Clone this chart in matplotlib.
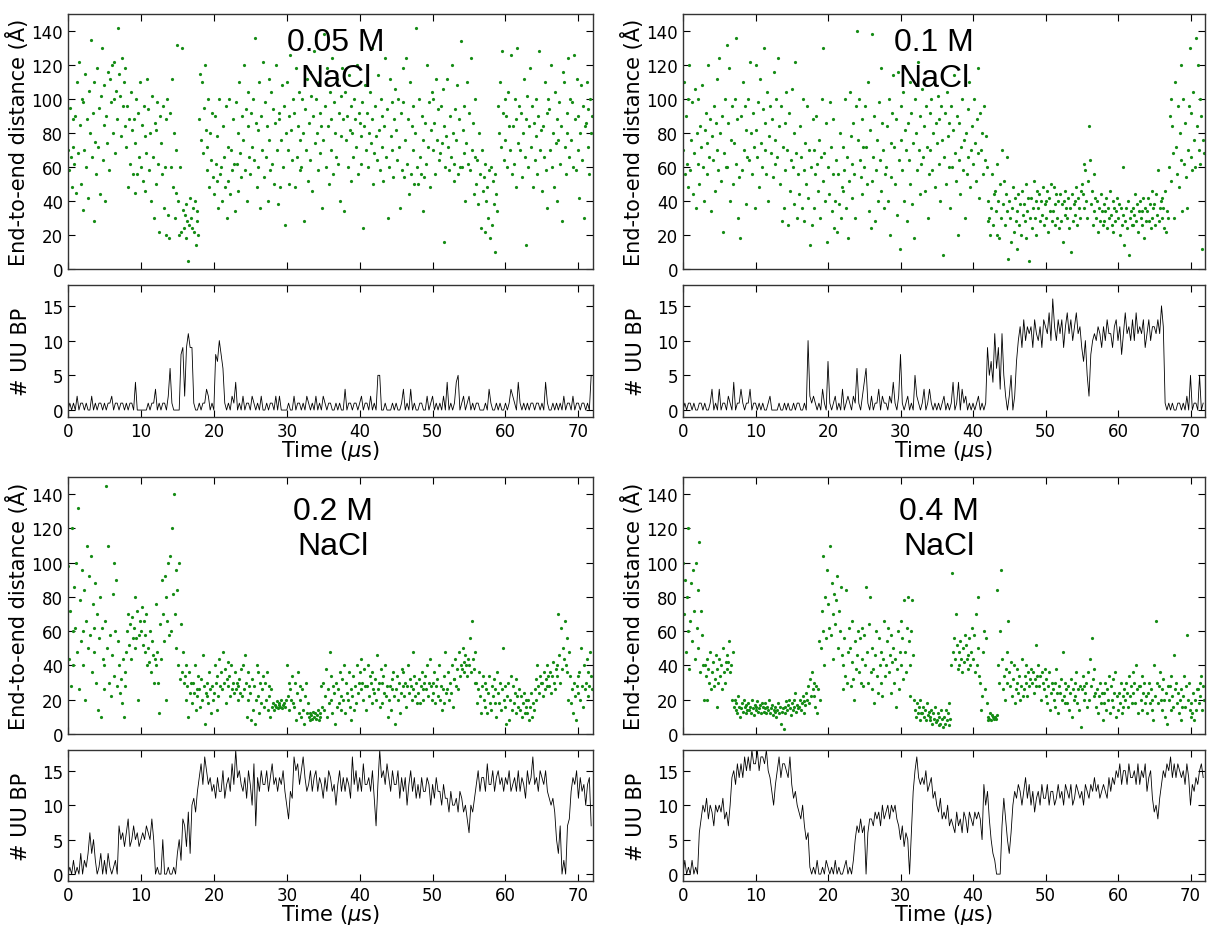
import numpy as np
import matplotlib
matplotlib.use('Agg')
import matplotlib.pyplot as plt

# ── end-to-end distance (Å), one row per microsecond, 8 frames per row ──
E2E_005 = [
    [70, 58, 95, 66, 48, 88, 72, 62], [90, 45, 110, 68, 122, 85, 50, 100],
    [35, 98, 70, 115, 60, 88, 42, 105], [80, 135, 66, 92, 28, 110, 75, 56],
    [118, 72, 95, 44, 102, 130, 64, 85], [108, 40, 90, 74, 116, 58, 112, 98],
    [120, 80, 100, 122, 68, 105, 88, 142], [115, 102, 78, 124, 96, 110, 84, 118],
    [72, 96, 48, 88, 62, 104, 82, 56], [88, 45, 74, 100, 56, 92, 66, 110],
    [60, 85, 52, 96, 46, 78, 68, 112], [94, 58, 80, 40, 102, 66, 30, 86],
    [50, 82, 98, 62, 22, 90, 74, 56], [96, 36, 60, 20, 88, 100, 32, 18],
    [92, 60, 112, 48, 80, 30, 70, 45], [132, 40, 20, 60, 22, 130, 35, 24],
    [32, 18, 38, 28, 5, 26, 42, 30], [24, 36, 22, 40, 14, 28, 34, 20],
    [88, 115, 76, 110, 68, 95, 120, 82], [58, 72, 100, 48, 80, 64, 92, 54],
    [44, 90, 62, 52, 78, 36, 100, 56], [60, 40, 84, 66, 48, 96, 30, 72],
    [52, 100, 44, 70, 58, 88, 62, 34], [98, 62, 80, 46, 110, 68, 54, 90],
    [76, 120, 58, 94, 40, 84, 104, 66], [56, 92, 72, 100, 64, 136, 86, 48],
    [82, 60, 110, 36, 90, 70, 122, 54], [98, 66, 84, 40, 112, 76, 58, 104],
    [62, 94, 50, 86, 120, 70, 38, 92], [88, 48, 76, 108, 60, 96, 26, 80],
    [110, 70, 90, 50, 126, 82, 64, 100], [92, 48, 118, 66, 84, 104, 58, 76],
    [60, 100, 80, 28, 94, 70, 112, 52], [86, 116, 64, 102, 46, 90, 128, 74],
    [100, 80, 58, 110, 92, 68, 84, 36], [76, 138, 96, 60, 118, 84, 50, 104],
    [88, 70, 124, 56, 98, 80, 66, 112], [62, 92, 40, 102, 78, 118, 88, 34],
    [104, 76, 90, 60, 114, 82, 96, 52], [80, 66, 100, 88, 72, 120, 56, 92],
    [86, 78, 62, 98, 24, 84, 108, 70], [92, 60, 80, 104, 74, 130, 88, 50],
    [68, 96, 78, 64, 114, 82, 58, 100], [72, 90, 52, 84, 124, 66, 94, 30],
    [60, 112, 78, 98, 70, 54, 88, 106], [82, 64, 100, 72, 36, 92, 58, 118],
    [98, 54, 76, 124, 62, 88, 44, 110], [56, 84, 70, 96, 50, 80, 142, 60],
    [50, 100, 66, 56, 90, 34, 76, 54], [86, 62, 120, 72, 98, 48, 82, 104],
    [100, 70, 86, 56, 112, 76, 94, 64], [68, 96, 74, 106, 16, 84, 60, 78],
    [112, 72, 58, 90, 66, 120, 80, 52], [62, 94, 76, 108, 56, 88, 60, 134],
    [60, 82, 68, 96, 40, 74, 110, 62], [92, 58, 124, 70, 86, 44, 100, 66],
    [50, 64, 38, 80, 56, 24, 70, 46], [54, 22, 62, 40, 48, 30, 58, 18],
    [60, 26, 52, 38, 10, 56, 44, 34], [96, 80, 110, 72, 128, 92, 64, 100],
    [76, 90, 60, 104, 84, 70, 126, 56], [84, 62, 100, 48, 88, 130, 74, 96],
    [70, 92, 54, 80, 112, 66, 88, 14], [102, 60, 84, 118, 72, 96, 48, 86],
    [64, 78, 100, 56, 90, 128, 70, 82], [46, 84, 66, 110, 58, 92, 36, 100],
    [94, 70, 120, 60, 80, 48, 104, 74], [88, 40, 76, 98, 62, 84, 28, 116],
    [110, 72, 56, 92, 80, 124, 66, 100], [76, 98, 60, 126, 88, 58, 112, 70],
    [90, 42, 80, 108, 64, 96, 30, 84], [86, 110, 72, 94, 56, 100, 80, 90],
]

E2E_01 = [
    [70, 110, 56, 90, 62, 100, 48, 120], [58, 76, 98, 44, 68, 106, 36, 80],
    [62, 100, 50, 84, 72, 108, 60, 40], [82, 92, 56, 74, 120, 66, 88, 34],
    [78, 64, 96, 46, 86, 70, 112, 58], [124, 80, 52, 90, 22, 68, 100, 60],
    [132, 60, 86, 118, 40, 76, 96, 50], [74, 100, 62, 136, 88, 30, 54, 18],
    [90, 58, 110, 70, 96, 38, 82, 66], [100, 64, 122, 80, 56, 92, 72, 36],
    [120, 82, 66, 98, 48, 112, 74, 60], [94, 130, 70, 86, 56, 104, 40, 78],
    [96, 68, 88, 54, 116, 76, 62, 100], [66, 124, 84, 50, 96, 28, 72, 36],
    [86, 58, 104, 70, 26, 92, 46, 64], [106, 60, 80, 38, 122, 68, 30, 56],
    [44, 84, 66, 36, 100, 58, 28, 74], [50, 96, 42, 70, 14, 60, 26, 88],
    [70, 36, 56, 90, 62, 46, 76, 30], [66, 100, 52, 130, 68, 40, 86, 16],
    [60, 44, 98, 72, 34, 88, 56, 24], [40, 64, 22, 56, 38, 80, 30, 48],
    [72, 46, 58, 100, 36, 66, 18, 52], [104, 78, 62, 42, 86, 56, 30, 96],
    [140, 76, 100, 64, 54, 88, 44, 72], [60, 96, 72, 50, 110, 34, 82, 24],
    [52, 138, 66, 90, 28, 58, 76, 40], [98, 64, 118, 46, 86, 70, 36, 56],
    [60, 84, 40, 100, 20, 74, 54, 92], [114, 72, 50, 88, 32, 116, 64, 12],
    [96, 76, 58, 104, 40, 82, 70, 28], [86, 64, 110, 50, 92, 38, 74, 18],
    [100, 80, 58, 122, 70, 44, 90, 62], [106, 66, 84, 46, 96, 72, 30, 56],
    [92, 70, 100, 58, 80, 110, 48, 86], [74, 102, 62, 88, 40, 96, 76, 8],
    [66, 92, 50, 104, 78, 60, 86, 36], [96, 60, 82, 114, 68, 52, 90, 20],
    [64, 86, 44, 72, 100, 58, 76, 30], [80, 56, 94, 66, 110, 48, 70, 84],
    [62, 100, 74, 52, 88, 68, 118, 42], [92, 70, 80, 56, 96, 64, 78, 60],
    [28, 40, 30, 20, 36, 56, 26, 44], [46, 34, 20, 62, 40, 18, 50, 30],
    [70, 38, 52, 26, 44, 66, 34, 6], [40, 30, 16, 36, 48, 22, 42, 28],
    [34, 12, 44, 26, 38, 20, 46, 32], [38, 28, 50, 18, 34, 42, 5, 30],
    [42, 24, 36, 52, 30, 40, 20, 46], [36, 44, 28, 40, 32, 48, 26, 38],
    [40, 30, 46, 22, 42, 34, 50, 28], [34, 48, 26, 38, 44, 30, 40, 24],
    [44, 28, 38, 16, 40, 32, 46, 36], [30, 42, 24, 36, 10, 44, 28, 38],
    [40, 32, 48, 26, 42, 36, 30, 46], [50, 44, 62, 36, 58, 40, 30, 52],
    [84, 64, 38, 46, 26, 56, 34, 42], [30, 40, 22, 36, 28, 44, 34, 26],
    [38, 28, 34, 42, 24, 36, 30, 46], [32, 26, 40, 22, 36, 28, 34, 42],
    [30, 38, 20, 36, 26, 60, 32, 14], [28, 36, 24, 40, 8, 30, 34, 26],
    [36, 26, 32, 44, 28, 38, 22, 34], [40, 30, 34, 26, 42, 18, 36, 28],
    [34, 42, 28, 38, 24, 46, 30, 36], [38, 26, 44, 32, 58, 28, 36, 40],
    [30, 42, 36, 24, 46, 22, 34, 30], [60, 90, 100, 52, 84, 68, 30, 110],
    [72, 56, 96, 48, 80, 120, 64, 34], [100, 62, 86, 54, 36, 70, 96, 130],
    [66, 92, 58, 104, 76, 60, 136, 84], [120, 70, 100, 62, 90, 12, 76, 68],
]

E2E_02 = [
    [98, 44, 72, 28, 120, 60, 40, 86], [62, 100, 48, 132, 26, 78, 54, 96],
    [60, 40, 84, 20, 66, 110, 50, 92], [58, 104, 36, 76, 62, 48, 88, 30],
    [70, 14, 56, 80, 10, 62, 44, 26], [40, 66, 145, 50, 110, 30, 58, 22],
    [46, 82, 34, 100, 60, 90, 28, 54], [40, 24, 32, 18, 44, 10, 36, 28],
    [48, 60, 70, 52, 64, 44, 68, 56], [62, 50, 80, 56, 72, 20, 58, 66],
    [60, 74, 52, 66, 48, 58, 70, 40], [50, 42, 60, 36, 54, 46, 30, 44],
    [40, 76, 48, 30, 12, 64, 44, 90], [70, 54, 92, 20, 80, 66, 100, 58],
    [104, 60, 120, 82, 140, 70, 96, 50], [84, 40, 100, 32, 64, 36, 48, 30],
    [34, 20, 40, 28, 10, 36, 24, 30], [18, 30, 24, 40, 14, 26, 22, 34],
    [26, 16, 32, 20, 46, 28, 6, 24], [30, 22, 18, 36, 26, 12, 28, 20],
    [24, 40, 30, 14, 34, 22, 44, 28], [36, 26, 48, 30, 38, 18, 32, 42],
    [28, 34, 22, 40, 26, 30, 24, 36], [26, 30, 20, 28, 32, 24, 38, 22],
    [40, 26, 46, 30, 10, 36, 20, 28], [24, 8, 32, 14, 28, 6, 20, 40],
    [22, 36, 12, 30, 18, 26, 34, 16], [30, 20, 36, 14, 28, 22, 10, 26],
    [16, 18, 14, 17, 16, 19, 15, 17], [18, 16, 20, 15, 17, 18, 16, 20],
    [40, 22, 30, 14, 26, 20, 34, 18], [16, 30, 8, 24, 36, 12, 20, 28],
    [10, 26, 14, 6, 22, 30, 12, 18], [10, 12, 8, 11, 9, 13, 10, 12],
    [9, 11, 14, 8, 10, 12, 28, 16], [30, 14, 22, 38, 10, 26, 18, 48],
    [20, 34, 12, 28, 24, 6, 30, 16], [26, 18, 36, 22, 14, 32, 20, 40],
    [12, 30, 24, 20, 36, 16, 26, 8], [22, 34, 14, 28, 18, 40, 24, 30],
    [36, 26, 44, 30, 20, 38, 28, 14], [28, 40, 22, 34, 30, 18, 36, 26],
    [24, 32, 20, 46, 26, 30, 16, 38], [30, 18, 34, 24, 40, 22, 28, 10],
    [20, 28, 14, 32, 26, 36, 22, 6], [26, 34, 20, 30, 12, 24, 38, 28],
    [36, 22, 30, 16, 28, 40, 24, 32], [28, 20, 48, 26, 34, 22, 30, 18],
    [24, 32, 18, 28, 36, 20, 26, 30], [34, 26, 40, 22, 30, 44, 28, 20],
    [30, 24, 36, 18, 28, 32, 22, 40], [20, 28, 14, 26, 34, 18, 48, 24],
    [26, 36, 20, 30, 24, 40, 16, 32], [32, 44, 28, 38, 26, 48, 34, 40],
    [38, 50, 42, 36, 46, 40, 34, 44], [40, 56, 36, 66, 44, 38, 48, 30],
    [30, 18, 26, 36, 22, 12, 28, 34], [20, 30, 16, 26, 12, 24, 34, 18],
    [14, 28, 22, 32, 18, 26, 10, 36], [24, 18, 30, 14, 26, 50, 20, 28],
    [16, 6, 22, 30, 8, 20, 34, 14], [28, 18, 24, 12, 32, 22, 16, 26],
    [14, 22, 10, 18, 24, 12, 20, 16], [12, 20, 8, 16, 24, 10, 18, 14],
    [26, 32, 20, 40, 28, 24, 34, 30], [30, 22, 36, 26, 32, 40, 28, 34],
    [28, 36, 24, 34, 42, 30, 26, 38], [40, 34, 70, 46, 30, 62, 38, 50],
    [44, 66, 40, 56, 36, 20, 48, 34], [18, 26, 12, 30, 22, 8, 28, 34],
    [24, 36, 20, 50, 28, 16, 40, 26], [30, 44, 22, 36, 28, 48, 34, 26],
]

E2E_04 = [
    [100, 70, 90, 48, 80, 60, 120, 38], [66, 88, 54, 96, 72, 44, 100, 62],
    [84, 50, 112, 36, 72, 58, 40, 20], [40, 34, 20, 44, 38, 30, 48, 26],
    [36, 42, 28, 32, 46, 16, 38, 30], [44, 34, 40, 26, 50, 36, 30, 42],
    [38, 46, 42, 54, 36, 40, 20, 48], [16, 20, 14, 18, 12, 22, 16, 10],
    [15, 18, 13, 20, 16, 12, 17, 14], [18, 14, 16, 12, 20, 15, 11, 17],
    [14, 16, 19, 13, 15, 17, 12, 18], [16, 13, 15, 18, 12, 16, 14, 20],
    [12, 15, 17, 11, 14, 16, 13, 10], [14, 18, 12, 16, 6, 13, 15, 3],
    [16, 12, 19, 14, 17, 20, 15, 11], [18, 14, 20, 16, 24, 13, 17, 15],
    [16, 20, 14, 18, 22, 12, 19, 17], [24, 20, 28, 18, 32, 22, 36, 26],
    [22, 30, 16, 28, 12, 26, 54, 20], [50, 72, 60, 104, 40, 80, 56, 96],
    [76, 62, 110, 58, 88, 70, 44, 82], [64, 78, 92, 50, 72, 60, 86, 46],
    [40, 26, 56, 34, 84, 30, 48, 62], [50, 28, 42, 66, 32, 20, 54, 38],
    [46, 60, 36, 56, 30, 44, 62, 28], [58, 40, 86, 48, 30, 64, 80, 36],
    [26, 50, 38, 18, 46, 60, 34, 24], [56, 40, 30, 48, 22, 44, 66, 34],
    [40, 54, 62, 36, 46, 24, 58, 42], [50, 30, 44, 16, 38, 60, 26, 48],
    [66, 40, 56, 32, 78, 48, 36, 62], [80, 54, 40, 22, 60, 78, 46, 20],
    [14, 10, 18, 12, 16, 8, 20, 12], [12, 16, 10, 14, 8, 18, 11, 13],
    [10, 8, 14, 6, 12, 9, 16, 7], [8, 12, 5, 10, 6, 14, 9, 4],
    [10, 6, 14, 8, 12, 5, 18, 9], [40, 94, 48, 56, 44, 70, 52, 38],
    [48, 40, 54, 44, 36, 50, 42, 58], [52, 44, 38, 46, 56, 40, 48, 62],
    [44, 58, 36, 70, 40, 50, 80, 34], [30, 14, 22, 48, 60, 26, 56, 18],
    [8, 10, 9, 12, 8, 11, 10, 9], [10, 9, 11, 84, 40, 30, 60, 96],
    [44, 26, 34, 20, 38, 48, 30, 66], [36, 28, 42, 22, 32, 40, 18, 26],
    [30, 38, 24, 34, 20, 28, 44, 22], [26, 34, 40, 30, 22, 36, 28, 32],
    [38, 30, 36, 24, 32, 52, 28, 34], [40, 28, 34, 20, 36, 30, 26, 38],
    [22, 32, 18, 28, 36, 14, 24, 30], [26, 20, 30, 16, 38, 24, 12, 28],
    [24, 32, 20, 48, 22, 30, 18, 26], [18, 28, 14, 24, 32, 10, 26, 20],
    [30, 22, 36, 18, 26, 14, 28, 4], [26, 34, 20, 28, 24, 30, 16, 36],
    [20, 44, 28, 56, 32, 22, 38, 24], [16, 26, 12, 22, 30, 18, 24, 8],
    [24, 18, 30, 14, 26, 20, 34, 12], [28, 20, 32, 16, 24, 36, 10, 22],
    [14, 24, 18, 30, 12, 22, 16, 26], [20, 30, 24, 16, 34, 22, 28, 18],
    [36, 24, 30, 18, 40, 26, 12, 28], [28, 20, 34, 14, 24, 30, 18, 22],
    [12, 24, 30, 18, 26, 14, 20, 8], [40, 22, 66, 30, 18, 28, 36, 20],
    [26, 14, 32, 20, 10, 24, 6, 28], [20, 28, 14, 34, 22, 16, 46, 26],
    [30, 18, 24, 12, 20, 8, 26, 16], [22, 34, 16, 28, 58, 20, 30, 14],
    [10, 18, 12, 24, 8, 20, 14, 26], [26, 18, 30, 22, 34, 14, 28, 20],
]

# ── number of UU base pairs, one row per microsecond, 4 samples per row ──
BP_005 = [
    [0, 1, 0, 1], [0, 2, 0, 1], [1, 0, 1, 0], [0, 2, 0, 1], [0, 1, 1, 0],
    [1, 0, 1, 1], [2, 0, 1, 1], [0, 1, 1, 0], [1, 0, 1, 1], [0, 4, 0, 0],
    [0, 0, 0, 0], [1, 0, 1, 1], [3, 0, 1, 0], [1, 1, 0, 2], [6, 1, 0, 0],
    [0, 0, 8, 9], [2, 9, 11, 9], [9, 1, 0, 0], [1, 0, 1, 1], [3, 2, 0, 1],
    [0, 8, 7, 10], [8, 6, 1, 0], [1, 0, 2, 1], [4, 0, 1, 0], [2, 0, 1, 1],
    [0, 2, 1, 0], [1, 0, 2, 0], [0, 1, 0, 1], [1, 0, 2, 0], [2, 0, 0, 0],
    [0, 1, 0, 0], [2, 0, 1, 1], [0, 1, 0, 2], [1, 0, 1, 0], [2, 0, 1, 0],
    [2, 1, 0, 1], [1, 0, 0, 1], [0, 1, 0, 0], [3, 0, 1, 1], [0, 1, 1, 0],
    [1, 2, 0, 1], [1, 0, 2, 0], [1, 0, 5, 5], [0, 0, 1, 0], [0, 0, 1, 0],
    [1, 0, 0, 1], [3, 0, 1, 0], [3, 0, 1, 0], [0, 1, 1, 0], [0, 2, 0, 1],
    [2, 0, 1, 0], [1, 0, 2, 0], [4, 0, 1, 0], [1, 4, 5, 0], [1, 2, 0, 1],
    [2, 0, 1, 0], [1, 1, 0, 0], [0, 1, 0, 3], [1, 0, 0, 1], [0, 1, 0, 0],
    [1, 0, 1, 3], [2, 1, 0, 4], [1, 0, 1, 0], [1, 0, 1, 1], [0, 1, 1, 0],
    [1, 0, 4, 1], [0, 0, 1, 0], [1, 0, 1, 0], [2, 0, 1, 1], [0, 2, 0, 1],
    [1, 0, 1, 1], [0, 1, 0, 5],
]

BP_01 = [
    [0, 1, 0, 1], [1, 0, 1, 0], [0, 1, 1, 0], [1, 0, 0, 1], [3, 0, 1, 0],
    [3, 0, 1, 1], [0, 2, 1, 0], [4, 0, 1, 1], [3, 1, 0, 1], [1, 3, 0, 1],
    [1, 0, 1, 0], [1, 0, 0, 1], [2, 0, 0, 0], [0, 1, 0, 0], [1, 0, 1, 0],
    [0, 1, 0, 1], [1, 0, 0, 1], [0, 10, 2, 1], [2, 1, 0, 1], [0, 3, 1, 0],
    [7, 1, 0, 1], [2, 0, 1, 0], [3, 0, 1, 2], [1, 0, 2, 1], [6, 1, 0, 2],
    [4, 6, 1, 0], [2, 0, 1, 1], [3, 0, 2, 1], [1, 0, 2, 1], [4, 1, 0, 2],
    [8, 1, 0, 1], [2, 0, 1, 0], [5, 2, 1, 0], [1, 3, 0, 1], [3, 1, 0, 1],
    [0, 1, 0, 1], [2, 0, 1, 0], [1, 4, 0, 1], [4, 0, 3, 1], [2, 0, 1, 0],
    [1, 0, 1, 2], [0, 1, 0, 1], [9, 5, 7, 4], [11, 6, 9, 3], [11, 5, 2, 0],
    [2, 5, 0, 2], [7, 10, 12, 9], [13, 10, 12, 11], [12, 9, 13, 11],
    [10, 12, 9, 13], [12, 11, 14, 10], [16, 12, 10, 13], [11, 13, 9, 12],
    [14, 11, 13, 10], [12, 14, 11, 12], [9, 7, 10, 5], [2, 8, 10, 11],
    [10, 12, 11, 9], [12, 10, 13, 11], [11, 9, 12, 13], [10, 12, 8, 11],
    [14, 11, 12, 10], [13, 10, 14, 11], [12, 11, 13, 9], [11, 13, 10, 12],
    [12, 11, 13, 11], [15, 12, 1, 0], [1, 0, 1, 0], [0, 1, 1, 0],
    [1, 0, 2, 0], [5, 0, 1, 1], [0, 5, 0, 1],
]

BP_02 = [
    [0, 1, 0, 2], [0, 1, 0, 3], [0, 2, 1, 3], [6, 3, 5, 2], [0, 1, 3, 0],
    [2, 0, 3, 1], [0, 1, 2, 0], [7, 5, 6, 4], [6, 8, 4, 5], [7, 5, 6, 4],
    [5, 6, 5, 7], [6, 5, 8, 5], [0, 1, 0, 0], [5, 0, 0, 1], [0, 0, 1, 0],
    [3, 5, 2, 8], [7, 4, 9, 3], [10, 11, 9, 12], [14, 16, 13, 17],
    [15, 13, 14, 12], [13, 11, 14, 12], [12, 15, 11, 13], [14, 12, 16, 13],
    [18, 14, 15, 13], [12, 14, 11, 15], [13, 10, 16, 7], [14, 12, 15, 13],
    [13, 15, 12, 14], [16, 13, 14, 12], [14, 13, 15, 12], [10, 8, 12, 11],
    [17, 15, 16, 13], [15, 17, 14, 12], [13, 15, 12, 14], [15, 12, 14, 13],
    [11, 14, 12, 15], [14, 12, 13, 10], [13, 15, 12, 14], [12, 14, 13, 11],
    [17, 13, 15, 12], [14, 12, 16, 13], [13, 14, 12, 15], [11, 7, 13, 18],
    [14, 15, 13, 16], [14, 12, 15, 13], [13, 15, 11, 14], [12, 14, 10, 13],
    [15, 12, 14, 11], [13, 11, 14, 12], [12, 14, 13, 10], [13, 11, 14, 12],
    [12, 10, 13, 11], [11, 9, 12, 10], [10, 11, 9, 12], [11, 9, 10, 8],
    [6, 10, 9, 11], [13, 15, 12, 14], [14, 12, 16, 13], [13, 15, 12, 14],
    [15, 13, 14, 12], [14, 13, 15, 12], [13, 14, 12, 15], [12, 14, 13, 11],
    [15, 13, 14, 17], [13, 14, 12, 15], [14, 13, 15, 12], [11, 10, 11, 9],
    [5, 3, 7, 0], [2, 0, 7, 8], [12, 14, 13, 15], [11, 14, 12, 13],
    [10, 13, 14, 7],
]

BP_04 = [
    [0, 2, 0, 1], [0, 2, 0, 1], [0, 6, 8, 10], [9, 11, 8, 10], [9, 7, 10, 9],
    [10, 9, 11, 8], [9, 7, 10, 14], [15, 13, 16, 14], [16, 14, 17, 15],
    [17, 15, 18, 16], [16, 18, 15, 17], [17, 16, 18, 15], [14, 12, 10, 13],
    [15, 17, 14, 16], [16, 15, 14, 17], [13, 11, 12, 10], [9, 8, 10, 7],
    [5, 6, 1, 0], [1, 0, 2, 0], [0, 1, 0, 2], [1, 0, 1, 0], [2, 0, 1, 0],
    [0, 1, 2, 0], [1, 0, 2, 5], [7, 6, 8, 6], [7, 0, 6, 8], [8, 7, 9, 8],
    [9, 7, 10, 8], [9, 10, 8, 10], [9, 10, 8, 7], [5, 7, 4, 6], [5, 0, 6, 12],
    [15, 17, 14, 13], [14, 13, 15, 12], [13, 14, 11, 12], [10, 9, 11, 8],
    [9, 8, 10, 7], [8, 7, 6, 9], [7, 8, 6, 9], [8, 6, 9, 8], [7, 9, 8, 9],
    [8, 5, 13, 10], [12, 8, 5, 3], [2, 0, 0, 0], [7, 11, 8, 5], [3, 6, 10, 12],
    [11, 13, 12, 10], [12, 14, 11, 13], [10, 12, 9, 11], [12, 10, 13, 11],
    [11, 13, 10, 12], [12, 10, 11, 13], [11, 12, 10, 13], [12, 11, 13, 10],
    [11, 13, 12, 11], [12, 10, 13, 12], [11, 13, 12, 14], [12, 13, 11, 12],
    [13, 12, 11, 14], [12, 14, 13, 15], [14, 16, 13, 15], [15, 13, 16, 14],
    [14, 15, 13, 16], [13, 15, 14, 16], [12, 14, 15, 11], [9, 10, 8, 11],
    [13, 15, 14, 16], [15, 17, 14, 16], [14, 16, 15, 14], [15, 13, 16, 14],
    [10, 13, 12, 14], [13, 15, 16, 14],
]

LABELS = ['0.05 M\nNaCl', '0.1 M\nNaCl', '0.2 M\nNaCl', '0.4 M\nNaCl']
E2E_DATA = [E2E_005, E2E_01, E2E_02, E2E_04]
BP_DATA = [BP_005, BP_01, BP_02, BP_04]

T_MAX = 72

plt.rcParams.update({
    'font.family': 'DejaVu Sans',
    'xtick.direction': 'in', 'ytick.direction': 'in',
    'xtick.top': True, 'ytick.right': True,
    'xtick.major.size': 5, 'ytick.major.size': 5,
    'xtick.labelsize': 12, 'ytick.labelsize': 12,
    'axes.linewidth': 1.0,
    'axes.edgecolor': '#333333',
})

W, H = 1208, 928
fig = plt.figure(figsize=(W / 100, H / 100), dpi=100)

# panel boxes in pixels: (left, right) per column, (top, bottom) per row
cols = [(68, 593), (683, 1205)]
rows_e2e = [(15, 270), (478, 735)]
rows_bp = [(286, 418), (751, 882)]
text_x = [0.51, 0.48, 0.505, 0.49]
text_y = [0.82, 0.82, 0.80, 0.80]


def box(cx, ry):
    l, r = cx
    t, b = ry
    return [l / W, 1 - b / H, (r - l) / W, (b - t) / H]


for k in range(4):
    c, r = k % 2, k // 2
    ax1 = fig.add_axes(box(cols[c], rows_e2e[r]))
    ax2 = fig.add_axes(box(cols[c], rows_bp[r]))

    # top: end-to-end distance scatter
    y1 = np.array(E2E_DATA[k], dtype=float).ravel()
    t1 = np.arange(len(y1)) * (T_MAX / len(y1))
    ax1.plot(t1, y1, 'o', color='#158c15', markersize=2.3, markeredgewidth=0)
    ax1.set_xlim(0, T_MAX)
    ax1.set_ylim(0, 150)
    ax1.set_yticks(range(0, 141, 20))
    ax1.set_xticks(range(0, 71, 10))
    ax1.set_xticklabels([])
    ax1.set_ylabel('End-to-end distance (Å)', fontsize=15, labelpad=2)
    ax1.text(text_x[k], text_y[k], LABELS[k], transform=ax1.transAxes,
             ha='center', va='center', fontsize=23, linespacing=1.25,
             family='Liberation Sans')

    # bottom: UU base-pair count trace
    y2 = np.array(BP_DATA[k], dtype=float).ravel()
    t2 = np.arange(len(y2)) * (T_MAX / len(y2))
    ax2.plot(t2, y2, '-', color='black', lw=0.6)
    ax2.set_xlim(0, T_MAX)
    ax2.set_ylim(-1, 18)
    ax2.set_yticks([0, 5, 10, 15])
    ax2.set_xticks(range(0, 71, 10))
    ax2.set_ylabel('# UU BP', fontsize=15, labelpad=8)
    ax2.set_xlabel(r'Time ($\mu$s)', fontsize=15, labelpad=-1)

fig.savefig('out.png', dpi=100)
